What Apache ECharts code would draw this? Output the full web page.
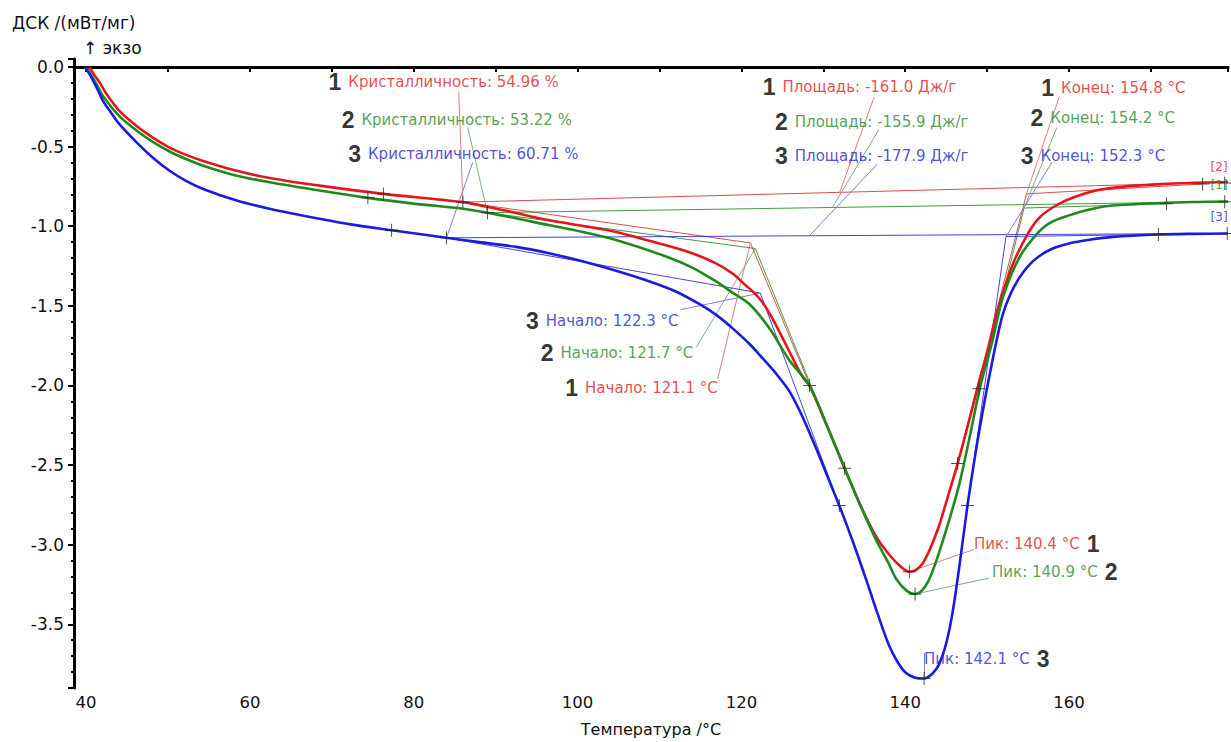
<!DOCTYPE html>
<html><head><meta charset="utf-8">
<script src="https://cdn.jsdelivr.net/npm/echarts@6/dist/echarts.min.js"></script>
<style>html,body{margin:0;padding:0;background:#fff}#c{width:1231px;height:742px}</style>
</head><body><div id="c"></div><script>
// ---- data ----
const curve1 = [[40.4,0],[41.0,-0.05],[41.7,-0.10],[42.5,-0.17],[44.1,-0.278],[46.2,-0.372],[48.2,-0.445],[50.2,-0.506],[52.2,-0.552],[54.3,-0.59],[58.4,-0.652],[62.4,-0.697],[68.5,-0.745],[76.3,-0.797],[86.0,-0.849],[91,-0.90],[96.6,-0.963],[100.5,-0.997],[104.7,-1.036],[110.8,-1.12],[114,-1.17],[116.9,-1.233],[119,-1.30],[120.5,-1.37],[121.6,-1.42],[122.6,-1.48],[123.8,-1.58],[125.0,-1.70],[127.5,-1.95],[128.3,-2.0],[130.5,-2.26],[132.6,-2.52],[134.5,-2.75],[136.4,-2.945],[138.0,-3.06],[139.5,-3.14],[140.5,-3.17],[141.3,-3.16],[142.1,-3.12],[143.0,-3.03],[144.0,-2.90],[144.5,-2.82],[146.4,-2.49],[148.0,-2.18],[149.0,-1.98],[150.2,-1.76],[151.1,-1.555],[153.1,-1.243],[155.1,-1.036],[156.5,-0.94],[158.4,-0.87],[160.5,-0.82],[163.3,-0.776],[167,-0.75],[171.4,-0.735],[175,-0.728],[179.4,-0.722]];
const curve2 = [[39.9,0],[40.6,-0.05],[41.3,-0.11],[42.1,-0.185],[44.1,-0.31],[46.2,-0.40],[48.2,-0.472],[50.2,-0.531],[52.2,-0.578],[54.3,-0.62],[58.4,-0.683],[62.4,-0.724],[68.5,-0.776],[74.4,-0.822],[80,-0.858],[86.0,-0.89],[89.0,-0.915],[96.6,-0.994],[100.5,-1.035],[104.7,-1.087],[110.8,-1.19],[114,-1.26],[116.9,-1.347],[119,-1.42],[121.0,-1.49],[123.4,-1.64],[125.9,-1.845],[128.3,-2.0],[130.5,-2.26],[132.6,-2.52],[134.5,-2.75],[136.4,-2.966],[138.0,-3.12],[138.9,-3.215],[140.2,-3.29],[141.2,-3.31],[142.0,-3.29],[142.8,-3.23],[143.6,-3.13],[144.5,-2.99],[145.4,-2.84],[146.6,-2.62],[147.8,-2.34],[149.1,-2.02],[150.6,-1.73],[151.9,-1.45],[153.9,-1.20],[156.3,-1.036],[158,-0.97],[160.0,-0.932],[162.5,-0.895],[165.3,-0.87],[171.8,-0.853],[175.5,-0.848],[179.4,-0.845]];
const curve3 = [[39.9,0],[40.6,-0.06],[41.3,-0.13],[42.1,-0.216],[43.1,-0.29],[44.1,-0.361],[46.2,-0.475],[48.2,-0.572],[50.2,-0.652],[52.2,-0.715],[54.3,-0.766],[58.4,-0.839],[62.4,-0.89],[68.5,-0.953],[72.5,-0.99],[77.3,-1.025],[84.0,-1.073],[88,-1.10],[92.5,-1.13],[96.5,-1.17],[100.6,-1.22],[104.7,-1.28],[108.8,-1.347],[112,-1.41],[114.9,-1.49],[117,-1.56],[118.9,-1.64],[121,-1.74],[122.6,-1.83],[124.3,-1.93],[125.9,-2.04],[127.4,-2.19],[129,-2.38],[130.5,-2.57],[131.95,-2.754],[133.6,-2.98],[135.2,-3.215],[136.6,-3.43],[138.0,-3.63],[139.1,-3.74],[140.1,-3.806],[141.2,-3.835],[142.3,-3.84],[143.3,-3.81],[144.1,-3.755],[145.0,-3.62],[145.8,-3.42],[146.7,-3.1],[147.6,-2.754],[148.5,-2.45],[149.4,-2.18],[150.2,-1.96],[151.1,-1.73],[151.9,-1.555],[152.9,-1.42],[153.9,-1.326],[155,-1.25],[156.3,-1.19],[158,-1.14],[160.0,-1.108],[162.5,-1.085],[165.3,-1.067],[171.0,-1.052],[175,-1.048],[179.4,-1.046]];

// construction lines (baselines, tangents) per sample
const guides1 = [[[86.0,-0.849],[179.4,-0.724]],[[86.0,-0.849],[121.1,-1.105]],[[121.1,-1.105],[132.6,-2.52]],[[146.4,-2.49],[154.8,-0.797]],[[154.8,-0.797],[176.3,-0.735]]];
const guides2 = [[[89.0,-0.915],[179.4,-0.845]],[[89.0,-0.915],[121.7,-1.14]],[[121.7,-1.14],[132.6,-2.52]],[[148.6,-2.12],[154.5,-0.886]],[[154.5,-0.886],[171.9,-0.859]]];
const guides3 = [[[84.0,-1.073],[179.4,-1.045]],[[84.0,-1.073],[122.3,-1.42]],[[122.3,-1.42],[131.95,-2.754]],[[147.6,-2.754],[152.3,-1.065]],[[152.3,-1.065],[170.9,-1.052]]];

// leader lines from result points to their labels
const leaders1 = [[[86.0,-0.849],[85.5,-0.156]],[[132.0,-0.787],[136.2,-0.19]],[[154.8,-0.797],[158.8,-0.187]],[[121.1,-1.105],[117.1,-1.96]],[[140.5,-3.17],[148.4,-3.03]]];
const leaders2 = [[[89.0,-0.915],[86.6,-0.38]],[[131.1,-0.883],[136.8,-0.392]],[[154.5,-0.886],[158.5,-0.38]],[[121.7,-1.14],[114.5,-1.76]],[[141.2,-3.31],[150.2,-3.21]]];
const leaders3 = [[[84.0,-1.073],[87.2,-0.60]],[[128.3,-1.06],[136.6,-0.61]],[[152.3,-1.065],[157.9,-0.60]],[[122.3,-1.42],[112.6,-1.524]],[[142.3,-3.84],[142.3,-3.68]]];

// cross markers
const crossPoints = [[76.3,-0.797],[86.0,-0.849],[74.4,-0.822],[89.0,-0.915],[77.3,-1.025],[84.0,-1.073],[128.3,-2.0],[132.6,-2.52],[131.95,-2.754],[140.5,-3.17],[141.2,-3.31],[142.3,-3.84],[146.4,-2.49],[147.6,-2.754],[149.0,-2.02],[176.3,-0.735],[179.0,-0.728],[171.9,-0.859],[179.0,-0.846],[170.9,-1.052],[179.3,-1.046]];

// annotation texts and anchors (data units)
const sampleIds = ['1','2','3'];
const crystTexts = ['Кристалличность: 54.96 %','Кристалличность: 53.22 %','Кристалличность: 60.71 %'];
const crystAt = [[69.6,-0.094],[71.2,-0.331],[72.0,-0.549]];
const areaTexts = ['Площадь: -161.0 Дж/г','Площадь: -155.9 Дж/г','Площадь: -177.9 Дж/г'];
const areaAt = [[122.6,-0.125],[124.1,-0.343],[124.1,-0.562]];
const endTexts = ['Конец: 154.8 °C','Конец: 154.2 °C','Конец: 152.3 °C'];
const endAt = [[156.6,-0.131],[155.3,-0.318],[154.1,-0.562]];
const onsetTexts = ['Начало: 121.1 °C','Начало: 121.7 °C','Начало: 122.3 °C'];
const onsetAt = [[98.5,-2.016],[95.5,-1.797],[93.7,-1.598]];
const peakTexts = ['Пик: 140.4 °C','Пик: 140.9 °C','Пик: 142.1 °C'];
const peakAt = [[148.4,-2.995],[150.6,-3.17],[142.3,-3.72]];
const tagTexts = ['[2]','[1]','[3]'];
const tagAt = [[179.35,-0.63],[179.35,-0.743],[179.35,-0.942]];

// ---- styling ----
const curveColors = ['#e3161b','#1e8a1e','#1a1ae0'];
const textColors = ['#e01c22','#2a8a2a','#2424cc'];
const guideColors = ['#d83a3a','#2f8f2f','#3030d8'];
const leaderColors = ['#d98080','#7fb07f','#7f7fd0'];
const curves = [curve1, curve2, curve3];
const guides = [guides1, guides2, guides3];
const leaders = [leaders1, leaders2, leaders3];

const series = [];
for (let i = 0; i < 3; i++) {
  series.push({type:'lines', coordinateSystem:'cartesian2d', silent:true, z:2,
    lineStyle:{color:guideColors[i], width:1, opacity:0.9},
    data: guides[i].map(c => ({coords:c}))});
  series.push({type:'lines', coordinateSystem:'cartesian2d', silent:true, z:2,
    lineStyle:{color:leaderColors[i], width:1, opacity:1},
    data: leaders[i].map(c => ({coords:c}))});
}
for (let i = 0; i < 3; i++) {
  series.push({type:'line', data:curves[i], showSymbol:false, smooth:0.3,
    lineStyle:{color:curveColors[i], width:2.6}, z:3, silent:true});
}
series.push({type:'scatter', data:crossPoints, symbol:'path://M6,0h1v6h6v1h-6v6h-1v-6h-6v-1h6z',
  symbolSize:13, itemStyle:{color:'#262626'}, z:4, silent:true});

const rich = (i) => ({
  n:{fontFamily:'Liberation Sans', fontWeight:'bold', fontSize:23, color:'#000', padding:[0,7,0,0]},
  m:{fontFamily:'Liberation Sans', fontWeight:'bold', fontSize:23, color:'#000', padding:[0,0,0,7]},
  t:{fontFamily:'DejaVu Sans', fontSize:15, color:textColors[i]},
  s:{fontFamily:'DejaVu Sans', fontSize:12, color:textColors[i]}
});
for (let i = 0; i < 3; i++) {
  const items = [];
  const add = (at, fmt, pos) => items.push({value:at, label:{formatter:fmt, position:pos || 'right'}});
  add(crystAt[i], '{n|' + sampleIds[i] + '}{t|' + crystTexts[i] + '}');
  add(areaAt[i], '{n|' + sampleIds[i] + '}{t|' + areaTexts[i] + '}');
  add(endAt[i], '{n|' + sampleIds[i] + '}{t|' + endTexts[i] + '}');
  add(onsetAt[i], '{n|' + sampleIds[i] + '}{t|' + onsetTexts[i] + '}');
  add(peakAt[i], '{t|' + peakTexts[i] + '}{m|' + sampleIds[i] + '}');
  add(tagAt[i], '{s|' + tagTexts[i] + '}', 'left');
  series.push({type:'scatter', data:items, symbolSize:0, z:5, silent:true,
    label:{show:true, position:'right', distance:0, rich:rich(i)}});
}

const isMult = (v, s) => Math.abs(v / s - Math.round(v / s)) < 1e-6;
const chart = echarts.init(document.getElementById('c'), null, {renderer:'svg'});
chart.setOption({
  animation:false,
  backgroundColor:'#fff',
  grid:{left:74, right:0, top:59, bottom:49},
  xAxis:{type:'value', min:38.53, max:179.4, splitNumber:14, minInterval:10, maxInterval:10,
    name:'Температура /°C', nameLocation:'middle', nameGap:33,
    nameTextStyle:{fontFamily:'DejaVu Sans', fontSize:16, color:'#111'},
    axisLine:{lineStyle:{color:'#000', width:3}},
    axisTick:{length:5, lineStyle:{color:'#000', width:2}},
    axisLabel:{fontFamily:'DejaVu Sans', fontSize:16.5, color:'#111', margin:6,
      formatter:v => isMult(v,20) ? String(Math.round(v)) : ''},
    splitLine:{show:false}},
  yAxis:[{type:'value', min:-3.9, max:0.05, splitNumber:8, minInterval:0.5, maxInterval:0.5,
    axisLine:{show:true, lineStyle:{color:'#000', width:3}},
    axisTick:{show:true, length:6, lineStyle:{color:'#000', width:2}},
    axisLabel:{fontFamily:'DejaVu Sans', fontSize:17, color:'#111', margin:10,
      formatter:v => isMult(v,0.5) && v > -3.85 && v < 0.01 ? (Math.round(v*10)/10).toFixed(1) : ''},
    splitLine:{show:false}},
   {type:'value', min:-3.9, max:0.05, interval:0.1, position:'left',
    axisLine:{show:false}, axisLabel:{show:false},
    axisTick:{show:true, length:3, lineStyle:{color:'#000', width:2}},
    splitLine:{show:false}}],
  graphic:[
    {type:'text', left:12, top:14, style:{text:'ДСК /(мВт/мг)', fontFamily:'DejaVu Sans', fontSize:17, fill:'#111'}},
    {type:'text', left:83, top:39, style:{text:'↑ экзо', fontFamily:'DejaVu Sans', fontSize:17, fill:'#111'}}
  ],
  series:series
});
</script></body></html>
